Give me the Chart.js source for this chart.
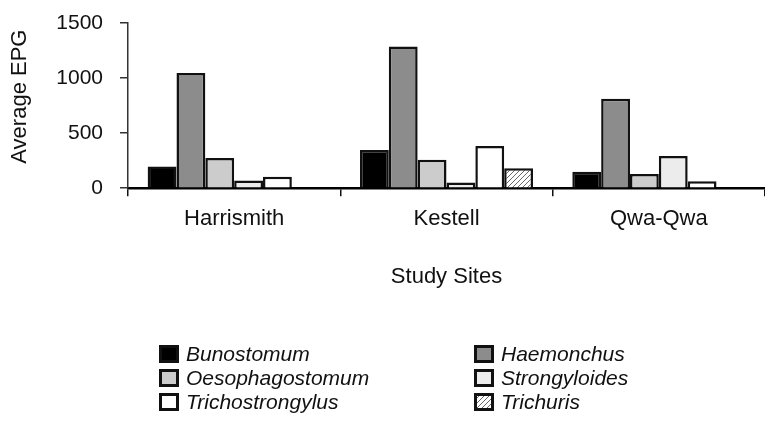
<!DOCTYPE html>
<html>
<head>
<meta charset="utf-8">
<script src="https://cdn.jsdelivr.net/npm/chart.js@4.4.0/dist/chart.umd.min.js"></script>
<style>
  html, body { margin: 0; padding: 0; background: #fff; overflow: hidden; }
  #wrap { width: 765px; height: 421px; }
</style>
</head>
<body>
<div id="wrap"><canvas id="epgChart" width="765" height="421"></canvas></div>
<script>
// study sites on the x axis
const sites = ['Harrismith', 'Kestell', 'Qwa-Qwa'];
const yTicks = [0, 500, 1000, 1500];

// average EPG per genus, one value per site
const bunostomum = [198, 347, 150];
const haemonchus = [1046, 1287, 812];
const oesophagostomum = [274, 259, 128];
const strongyloides = [70, 52, 292];
const trichostrongylus = [104, 383, 64];
const trichuris = [0, 182, 0];

const canvas = document.getElementById('epgChart');
const ctx = canvas.getContext('2d');

// diagonal hatch used for Trichuris
function makeHatch() {
    const p = document.createElement('canvas');
    p.width = 5;
    p.height = 5;
    const g = p.getContext('2d');
    g.fillStyle = '#fff';
    g.fillRect(0, 0, 5, 5);
    g.strokeStyle = '#6a6a6a';
    g.lineWidth = 1;
    g.beginPath();
    g.moveTo(0, 5); g.lineTo(5, 0);
    g.moveTo(-1, 1); g.lineTo(1, -1);
    g.moveTo(4, 6); g.lineTo(6, 4);
    g.stroke();
    return ctx.createPattern(p, 'repeat');
}

const font = '"Liberation Sans", Arial, sans-serif';
Chart.defaults.font.family = font;
Chart.defaults.color = '#111';

// legend in two columns under the chart, plus the y title (sits a bit above centre)
const extras = {
    id: 'extras',
    afterDraw(chart) {
        const c = chart.ctx;
        const colX = [159, 474];
        const rowY = [354, 378, 402];
        c.save();
        c.font = 'italic 21px ' + font;
        c.textBaseline = 'middle';
        chart.data.datasets.forEach((ds, i) => {
            const x = colX[i % 2];
            const y = rowY[Math.floor(i / 2)];
            c.fillStyle = ds.backgroundColor;
            c.fillRect(x, y - 9, 20, 18);
            c.lineWidth = 3;
            c.strokeStyle = '#111';
            c.strokeRect(x + 1.5, y - 7.5, 17, 15);
            c.fillStyle = '#111';
            c.fillText(ds.label, x + 27, y + 1);
        });
        c.restore();

        const area = chart.chartArea;
        c.save();
        c.translate(20, (area.top + area.bottom) / 2 - 9);
        c.rotate(-Math.PI / 2);
        c.font = '22px ' + font;
        c.fillStyle = '#111';
        c.textAlign = 'center';
        c.textBaseline = 'middle';
        c.fillText('Average EPG', 0, 0);
        c.restore();
    }
};

const border = { borderColor: '#111', borderWidth: 2.5 };

new Chart(ctx, {
    type: 'bar',
    data: {
        labels: sites,
        datasets: [
            { label: 'Bunostomum', data: bunostomum, backgroundColor: '#000', ...border },
            { label: 'Haemonchus', data: haemonchus, backgroundColor: '#8c8c8c', ...border },
            { label: 'Oesophagostomum', data: oesophagostomum, backgroundColor: '#cccccc', ...border },
            { label: 'Strongyloides', data: strongyloides, backgroundColor: '#ececec', ...border },
            { label: 'Trichostrongylus', data: trichostrongylus, backgroundColor: '#ffffff', ...border },
            { label: 'Trichuris', data: trichuris, backgroundColor: makeHatch(), ...border }
        ]
    },
    options: {
        responsive: false,
        animation: false,
        layout: { padding: { top: 23, right: 0, bottom: 131, left: 0 } },
        datasets: { bar: { categoryPercentage: 0.815, barPercentage: 1 } },
        plugins: { legend: { display: false }, tooltip: { enabled: false } },
        scales: {
            x: {
                grid: { offset: true, drawOnChartArea: false, color: '#111', lineWidth: 1.5, tickLength: 8 },
                border: { color: '#000', width: 2.5 },
                ticks: { font: { size: 22 }, padding: 10 },
                title: { display: true, text: 'Study Sites', font: { size: 22 }, padding: { top: 21, bottom: 0 } }
            },
            y: {
                min: 0,
                max: 1500,
                afterBuildTicks: scale => { scale.ticks = yTicks.map(v => ({ value: v })); },
                afterFit: scale => {
                    scale.width = 128;
                    scale.paddingTop = 0;
                    scale.paddingBottom = 0;
                },
                grid: { drawOnChartArea: false, color: '#333', lineWidth: 1.5, tickLength: 8 },
                border: { color: '#333', width: 1.5 },
                ticks: { font: { size: 21 }, padding: 17, callback: v => String(v) }
            }
        }
    },
    plugins: [extras]
});
</script>
</body>
</html>
